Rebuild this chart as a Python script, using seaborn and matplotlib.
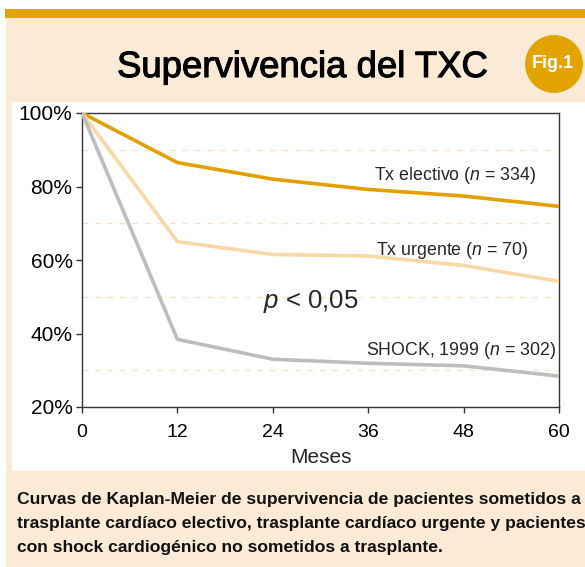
import numpy as np
import pandas as pd
import matplotlib
matplotlib.use("Agg")
import matplotlib.pyplot as plt
import seaborn as sns
from matplotlib.patches import Rectangle, Circle
from matplotlib.ticker import FuncFormatter
import matplotlib.patheffects as pe

# ---- data ----
months = [0, 12, 24, 36, 48, 60]
electivo = [100, 86.5, 82.0, 79.2, 77.4, 74.6]
urgente = [100, 65.0, 61.5, 61.1, 58.5, 54.2]
shock = [100, 38.4, 33.0, 31.9, 31.2, 28.4]
series_names = ["Tx electivo", "Tx urgente", "SHOCK, 1999"]
series_n = [334, 70, 302]
x_ticks = [0, 12, 24, 36, 48, 60]
y_ticks = [20, 40, 60, 80, 100]
grid_levels = [30, 50, 70, 90]

title = "Supervivencia del TXC"
badge = "Fig.1"
caption = ["Curvas de Kaplan-Meier de supervivencia de pacientes sometidos a",
           "trasplante cardíaco electivo, trasplante cardíaco urgente y pacientes",
           "con shock cardiogénico no sometidos a trasplante."]

df = pd.DataFrame({
    "Meses": months * 3,
    "Supervivencia": electivo + urgente + shock,
    "Grupo": sum([[s] * len(months) for s in series_names], []),
})

sns.set_theme(style="white")
plt.rcParams["font.family"] = ["Liberation Sans", "DejaVu Sans"]
plt.rcParams["mathtext.fontset"] = "custom"
plt.rcParams["mathtext.rm"] = "Liberation Sans"
plt.rcParams["mathtext.it"] = "Liberation Sans:italic"

W, H = 585, 567
fig = plt.figure(figsize=(W / 100, H / 100), dpi=100, facecolor="white")

def frect(x0, y0, x1, y1, color):
    fig.add_artist(Rectangle((x0 / W, 1 - y1 / H), (x1 - x0) / W, (y1 - y0) / H,
                             transform=fig.transFigure, color=color, lw=0, zorder=0))

gold = "#E3A400"
beige = "#FBEBD6"
frect(5, 9, 585, 18, gold)
frect(6, 18, 585, 567, beige)
frect(12, 102, 585, 471, "white")

fig.add_artist(Circle((554 / 100, (H - 64) / 100), 0.29, transform=fig.dpi_scale_trans,
                      color=gold, lw=0, zorder=1))
fig.text(553 / W, 1 - 63 / H, badge, color="white", fontsize=13, fontweight="bold",
         ha="center", va="center", zorder=2)
fig.text(117 / W, 1 - 77 / H, title, fontsize=26.3, color="black", ha="left", va="baseline",
         path_effects=[pe.withStroke(linewidth=0.8, foreground="black")])

for i, line in enumerate(caption):
    fig.text(17 / W, 1 - (504 + 24 * i) / H, line, fontsize=12.6, fontweight="bold",
             color="#111111", ha="left", va="baseline")

ax = fig.add_axes([82 / W, 1 - 407 / H, 477 / W, 294 / H])
ax.set_facecolor("none")
palette = {"Tx electivo": "#E2A000", "Tx urgente": "#F8D9A6", "SHOCK, 1999": "#BDBDBD"}
sns.lineplot(data=df, x="Meses", y="Supervivencia", hue="Grupo", palette=palette,
             linewidth=2.6, legend=False, ax=ax, zorder=3)

ax.set_xlim(0, 60)
ax.set_ylim(20, 100)
ax.set_xticks(x_ticks)
ax.set_yticks(y_ticks)
ax.yaxis.set_major_formatter(FuncFormatter(lambda v, p: f"{int(v)}%"))
ax.set_yticks(grid_levels, minor=True)
ax.grid(False)
ax.grid(which="minor", axis="y", linestyle=(0, (4, 5)), color="#FBE2C4", linewidth=1)
ax.tick_params(axis="both", which="major", direction="out", length=4.3, width=1,
               color="#333333", labelcolor="black", left=True, bottom=True)
ax.tick_params(axis="x", which="major", labelsize=14, pad=8)
ax.tick_params(axis="y", which="major", labelsize=15, pad=2.5)
ax.tick_params(which="minor", length=0)
for s in ax.spines.values():
    s.set_color("#333333")
    s.set_linewidth(1)
ax.set_xlabel("Meses", fontsize=15, labelpad=5)
ax.set_ylabel("")

lbl_pos = [(57.1, 82.9, "right"), (56.1, 62.7, "right"), (59.6, 35.5, "right")]
for (x, y, ha), name, n in zip(lbl_pos, series_names, series_n):
    ax.text(x, y, f"{name} ($\\mathit{{n}}$ = {n})", fontsize=12.8, ha=ha, va="center")
ax.text(22.8, 48.6, "$\\mathit{p}$ < 0,05", fontsize=18.5, ha="left", va="center")

fig.savefig("out.png", dpi=100, facecolor="white")
